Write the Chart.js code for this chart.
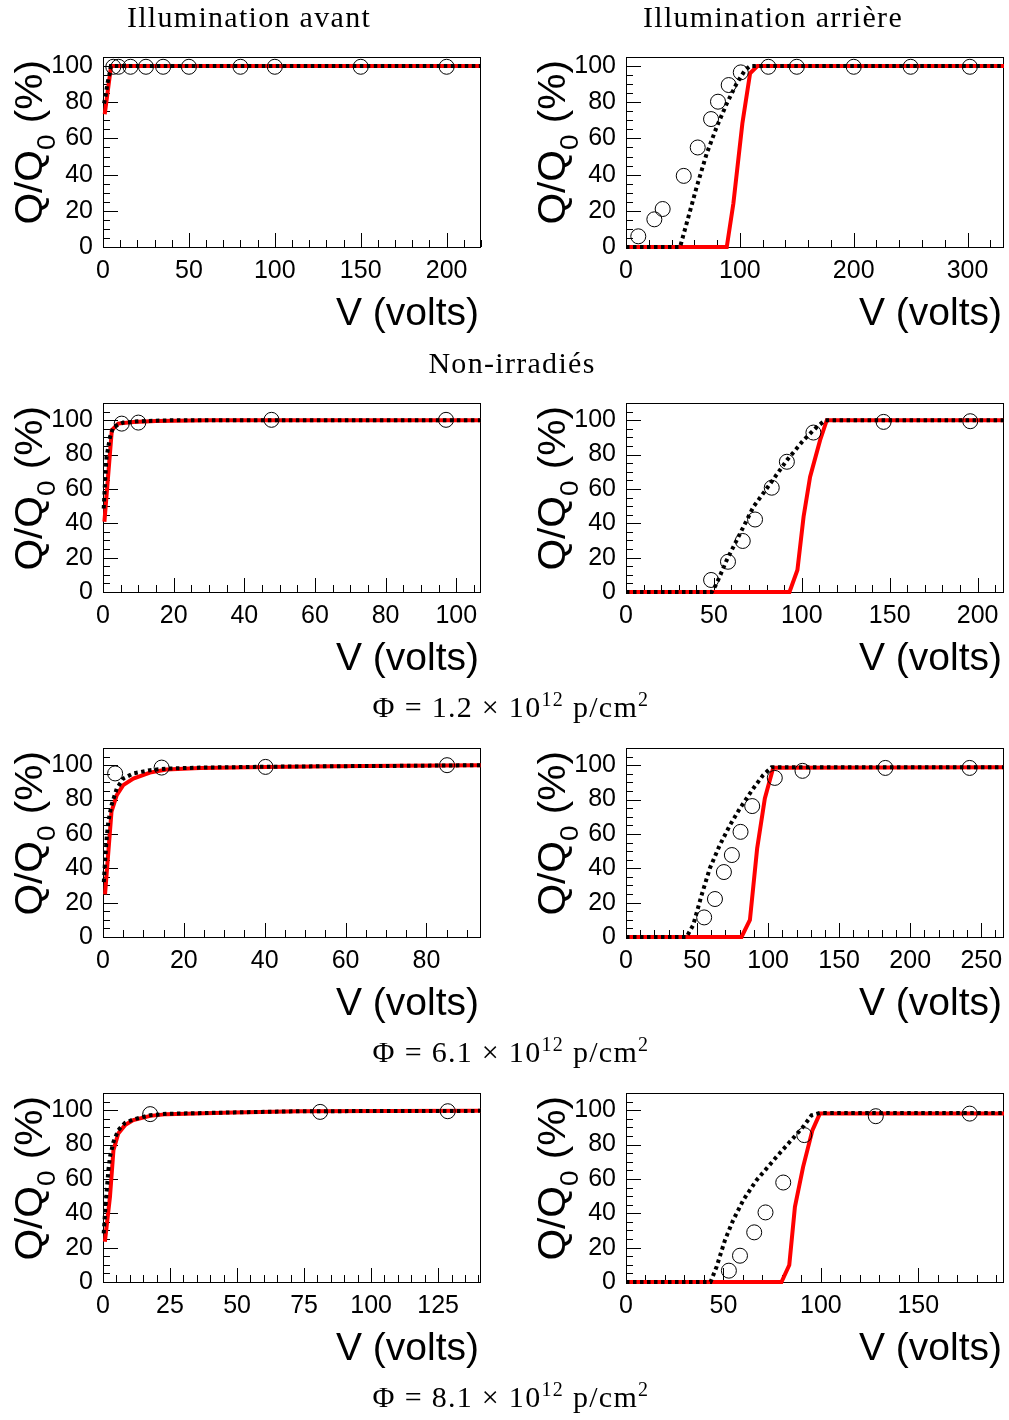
<!DOCTYPE html>
<html><head><meta charset="utf-8">
<script src="https://cdn.jsdelivr.net/npm/chart.js@4/dist/chart.umd.min.js"></script>
<style>
html,body{margin:0;padding:0;background:#fff;}
#wrap{position:relative;width:1009px;height:1420px;overflow:hidden;background:#fff;}
#wrap canvas{position:absolute;}
.ttl{position:absolute;font-family:"Liberation Serif","DejaVu Serif",serif;font-size:30px;line-height:30px;letter-spacing:1.3px;color:#000;white-space:nowrap;transform:translateX(-50%);}
.ttl sup{font-size:20px;vertical-align:11px;line-height:0;}
</style></head>
<body><div id="wrap"></div>
<script>
// ---------- DATA (V in volts, Q/Q0 in %) ----------
// Non-irradiés, illumination avant
const a1_redV = [1, 4.7, 220];
const a1_redQ = [73.4, 100, 100];
const a1_dotV = [0.6, 1.7, 2.5, 3.7, 4.6, 220];
const a1_dotQ = [79.3, 84.5, 90, 95.4, 100, 100];
const a1_ptsV = [6, 9, 16, 25, 35, 50, 80, 100, 150, 200];
const a1_ptsQ = [99.6, 99.6, 99.6, 99.6, 99.6, 99.6, 99.6, 99.6, 99.6, 99.6];
const a1_xTicks = [0, 50, 100, 150, 200];
// Non-irradiés, illumination arrière
const a2_redV = [0, 88.5, 94.3, 102.2, 109, 115.4, 332];
const a2_redQ = [0, 0, 24, 68.3, 96, 100, 100];
const a2_dotV = [0, 47.5, 54.8, 62, 70.9, 79.7, 88.5, 97.2, 104.6, 109, 332];
const a2_dotQ = [0, 0, 16.6, 33, 51.7, 66.4, 79.3, 90.4, 97.8, 100, 100];
const a2_ptsV = [10.8, 24.9, 32.2, 50.7, 63, 74.7, 80.8, 90.2, 100.8, 125, 150, 200, 250, 302];
const a2_ptsQ = [5.9, 15.3, 21, 39.3, 55, 70.7, 80.3, 89.5, 96.5, 99.6, 99.6, 99.6, 99.6, 99.6];
const a2_xTicks = [0, 100, 200, 300];
// Phi = 1.2e12, avant
const b1_redV = [0.4, 2.5, 4.3, 8.6, 15, 30, 107];
const b1_redQ = [40.9, 94.2, 98, 99, 99.5, 100, 100];
const b1_dotV = [0.2, 0.6, 1, 1.5, 2, 2.9, 5.7, 10.4, 20, 107];
const b1_dotQ = [48.6, 65, 78.7, 84.5, 90.3, 96, 98.6, 99.4, 100, 100];
const b1_ptsV = [5.3, 10, 47.7, 97.1];
const b1_ptsQ = [98, 98.6, 100.2, 100.2];
const b1_xTicks = [0, 20, 40, 60, 80, 100];
// Phi = 1.2e12, arrière
const b2_redV = [0, 93, 97.5, 101, 104.7, 110.4, 114.2, 215];
const b2_redQ = [0, 0, 12.8, 43.8, 67, 88.4, 100, 100];
const b2_dotV = [0, 48.8, 51.6, 57.3, 64.9, 72.5, 82, 91.5, 101, 108.5, 113.3, 215];
const b2_dotQ = [0, 0, 5, 18.6, 34.1, 49.6, 63, 76.7, 88.4, 96, 100, 100];
const b2_ptsV = [48.4, 58, 66.4, 73.4, 82.9, 91.5, 106.6, 146.5, 195.8];
const b2_ptsQ = [7, 17.6, 29.7, 42.2, 60.7, 75.8, 92.8, 99, 99.4];
const b2_xTicks = [0, 50, 100, 150, 200];
// Phi = 6.1e12, avant
const c1_redV = [0.5, 2.1, 3.4, 5, 7.5, 11.6, 15.7, 24, 40.4, 57, 73.4, 93.5];
const c1_redQ = [24.8, 72.9, 82.6, 88.4, 92.2, 95.7, 97.5, 98.4, 99, 99.4, 99.6, 100];
const c1_dotV = [0.2, 0.5, 0.9, 1.3, 2.1, 3.4, 5, 7.5, 11.6, 15.7, 24, 40.4, 57, 73.4, 93.5];
const c1_dotQ = [32, 43.8, 57.4, 67, 76.7, 86.4, 92.2, 95.2, 97.1, 98, 98.6, 99.1, 99.4, 99.6, 100];
const c1_ptsV = [3, 14.5, 40.2, 85.1];
const c1_ptsQ = [95.2, 98.6, 99, 100];
const c1_xTicks = [0, 20, 40, 60, 80];
// Phi = 6.1e12, arrière
const c2_redV = [0, 81.3, 87.2, 92.3, 97.7, 103.6, 266];
const c2_redQ = [0, 0, 9.9, 51.6, 80.6, 98.5, 98.8];
const c2_dotV = [0, 42.6, 47.3, 53.2, 59, 66, 73.1, 80.1, 89.5, 96.5, 102.4, 266];
const c2_dotQ = [0, 0, 7, 24.4, 40, 53.5, 65, 74.8, 86.4, 94.2, 98.8, 98.8];
const c2_ptsV = [55, 62.6, 68.9, 74.5, 80.6, 88.8, 104.7, 124.2, 182.5, 241.8];
const c2_ptsQ = [11.4, 22.1, 37.8, 47.7, 61.2, 76.2, 92.6, 96.7, 98.4, 98.4];
const c2_xTicks = [0, 50, 100, 150, 200, 250];
// Phi = 8.1e12, avant
const d1_redV = [0.7, 2.6, 3.9, 5.7, 8.2, 11.3, 17.6, 23.8, 48.7, 73.6, 141];
const d1_redQ = [23.4, 49.6, 76.7, 86.4, 91.3, 94.2, 96.7, 97.7, 98.6, 99.4, 99.6];
const d1_dotV = [0.25, 0.75, 1.4, 2, 2.6, 3.9, 5.7, 8.2, 11.3, 17.6, 23.8, 48.7, 73.6, 141];
const d1_dotQ = [28.3, 40, 53.5, 65, 72.9, 81.6, 88.4, 92.6, 94.6, 97.1, 97.9, 98.7, 99.4, 99.6];
const d1_ptsV = [17.6, 81, 128.6];
const d1_ptsQ = [97.7, 99, 99.4];
const d1_xTicks = [0, 25, 50, 75, 100, 125];
// Phi = 8.1e12, arrière
const d2_redV = [0, 79.8, 83.8, 86.7, 90.9, 95.7, 99.5, 194];
const d2_redQ = [0, 0, 9.9, 43.8, 67, 88.4, 98, 98];
const d2_dotV = [0, 43.4, 46.5, 50.8, 55, 60.2, 67, 72.1, 77.3, 84.1, 90.9, 95.2, 99.5, 194];
const d2_dotQ = [0, 0, 8.9, 24.4, 36, 47.7, 59.3, 66, 72.9, 81.6, 90.3, 97, 98.4, 98.4];
const d2_ptsV = [52.8, 58.5, 65.8, 71.6, 80.7, 91.5, 128.2, 176.4];
const d2_ptsQ = [6.6, 15.3, 28.9, 40.5, 57.9, 85.5, 96.5, 98];
const d2_xTicks = [0, 50, 100, 150];

const yTicks = [0, 20, 40, 60, 80, 100];

// ---------- LAYOUT ----------
const rowTop = [57, 403, 748, 1093];
const rowH = [190, 189, 189, 189];
const rowYMax = [105, 110, 110, 110];

const panels = [
  {row:0, col:0, redV:a1_redV, redQ:a1_redQ, dotV:a1_dotV, dotQ:a1_dotQ, ptsV:a1_ptsV, ptsQ:a1_ptsQ, xTicks:a1_xTicks, xMax:220, xMinor:10},
  {row:0, col:1, redV:a2_redV, redQ:a2_redQ, dotV:a2_dotV, dotQ:a2_dotQ, ptsV:a2_ptsV, ptsQ:a2_ptsQ, xTicks:a2_xTicks, xMax:332, xMinor:20},
  {row:1, col:0, redV:b1_redV, redQ:b1_redQ, dotV:b1_dotV, dotQ:b1_dotQ, ptsV:b1_ptsV, ptsQ:b1_ptsQ, xTicks:b1_xTicks, xMax:107, xMinor:5},
  {row:1, col:1, redV:b2_redV, redQ:b2_redQ, dotV:b2_dotV, dotQ:b2_dotQ, ptsV:b2_ptsV, ptsQ:b2_ptsQ, xTicks:b2_xTicks, xMax:215, xMinor:10},
  {row:2, col:0, redV:c1_redV, redQ:c1_redQ, dotV:c1_dotV, dotQ:c1_dotQ, ptsV:c1_ptsV, ptsQ:c1_ptsQ, xTicks:c1_xTicks, xMax:93.5, xMinor:5},
  {row:2, col:1, redV:c2_redV, redQ:c2_redQ, dotV:c2_dotV, dotQ:c2_dotQ, ptsV:c2_ptsV, ptsQ:c2_ptsQ, xTicks:c2_xTicks, xMax:266, xMinor:10},
  {row:3, col:0, redV:d1_redV, redQ:d1_redQ, dotV:d1_dotV, dotQ:d1_dotQ, ptsV:d1_ptsV, ptsQ:d1_ptsQ, xTicks:d1_xTicks, xMax:141, xMinor:5},
  {row:3, col:1, redV:d2_redV, redQ:d2_redQ, dotV:d2_dotV, dotQ:d2_dotQ, ptsV:d2_ptsV, ptsQ:d2_ptsQ, xTicks:d2_xTicks, xMax:194, xMinor:10},
];

const SANS = '"Liberation Sans", Arial, Helvetica, sans-serif';
Chart.defaults.font.family = SANS;
Chart.defaults.color = '#000';

function pts(vs, qs) { return vs.map((v, i) => ({x: v, y: qs[i]})); }

const frameTicks = {
  id: 'frameTicks',
  beforeDatasetsDraw(chart, args, o) {
    const {ctx, chartArea: a} = chart;
    const x = chart.scales.x, y = chart.scales.y;
    ctx.save();
    ctx.strokeStyle = '#000';
    ctx.lineWidth = 1;
    const L = Math.round(a.left), R = Math.round(a.right), T = Math.round(a.top), B = Math.round(a.bottom);
    ctx.strokeRect(L + 0.5, T + 0.5, R - L - 1, B - T);
    ctx.beginPath();
    const nx = Math.floor(x.max / o.xMinor + 1e-9);
    for (let i = 0; i <= nx; i++) {
      const v = i * o.xMinor;
      const px = Math.round(x.getPixelForValue(v)) + 0.5;
      const major = o.xMajor.some(m => Math.abs(m - v) < 1e-6);
      ctx.moveTo(px, B); ctx.lineTo(px, B - (major ? 14 : 7));
    }
    const ny = Math.floor(y.max / 5 + 1e-9);
    for (let i = 0; i <= ny; i++) {
      const v = i * 5;
      const py = Math.round(y.getPixelForValue(v)) + 0.5;
      const major = o.yMajor.some(m => Math.abs(m - v) < 1e-6);
      ctx.moveTo(L, py); ctx.lineTo(L + (major ? 15 : 7), py);
    }
    ctx.stroke();
    ctx.restore();
  },
  afterDraw(chart) {
    const {ctx, chartArea: a} = chart;
    ctx.save();
    ctx.fillStyle = '#000';
    const big = '38px ' + SANS, small = '26px ' + SANS;
    ctx.font = '39px ' + SANS;
    ctx.textAlign = 'right';
    ctx.textBaseline = 'alphabetic';
    ctx.fillText('V (volts)', a.right - 2, a.bottom + 78);
    ctx.font = big;
    ctx.translate(a.left - 61.5, a.top + 3);
    ctx.rotate(-Math.PI / 2);
    ctx.scale(1.07, 1);
    ctx.textAlign = 'left';
    const w1 = ctx.measureText('Q/Q').width, w3 = ctx.measureText(' (%)').width;
    ctx.font = small;
    const w2 = ctx.measureText('0').width;
    let xx = -(w1 + w2 + w3);
    ctx.font = big; ctx.fillText('Q/Q', xx, 0); xx += w1;
    ctx.font = small; ctx.fillText('0', xx, 13); xx += w2;
    ctx.font = big; ctx.fillText(' (%)', xx, 0);
    ctx.restore();
  }
};

const PADT = 40, PADR = 40, AXB = 100;
const wrap = document.getElementById('wrap');
panels.forEach(p => {
  const cv = document.createElement('canvas');
  const left = p.col === 0 ? 0 : 520;
  const axisW = p.col === 0 ? 103 : 106;
  const W = axisW + 378 + PADR;
  const top = rowTop[p.row] - PADT;
  const H = PADT + rowH[p.row] + AXB;
  cv.width = W; cv.height = H;
  cv.style.left = left + 'px'; cv.style.top = top + 'px';
  cv.style.width = W + 'px'; cv.style.height = H + 'px';
  wrap.appendChild(cv);
  new Chart(cv, {
    type: 'line',
    data: {
      datasets: [
        {label: 'mesures', data: pts(p.ptsV, p.ptsQ), showLine: false, pointRadius: 7.5, pointHoverRadius: 7.5,
         pointStyle: 'circle', pointBorderColor: '#000', pointBackgroundColor: 'rgba(0,0,0,0)', pointBorderWidth: 1, order: 0},
        {label: 'simulation 2', data: pts(p.dotV, p.dotQ), borderColor: '#000', borderWidth: 4, borderDash: [3.5, 3.5],
         pointRadius: 0, tension: 0, fill: false, order: 1},
        {label: 'simulation 1', data: pts(p.redV, p.redQ), borderColor: '#ff0000', borderWidth: 4,
         pointRadius: 0, tension: 0, fill: false, order: 2},
      ]
    },
    options: {
      responsive: false, animation: false, devicePixelRatio: 1, events: [],
      clip: false,
      layout: {padding: {left: 0, right: PADR, top: PADT, bottom: 0}},
      plugins: {legend: {display: false}, tooltip: {enabled: false},
                frameTicks: {xMinor: p.xMinor, xMajor: p.xTicks, yMajor: yTicks}},
      scales: {
        x: {type: 'linear', min: 0, max: p.xMax,
            grid: {display: false, drawTicks: false}, border: {display: false},
            ticks: {font: {size: 25}, color: '#000', padding: 9, maxRotation: 0, autoSkip: false},
            afterBuildTicks: s => { s.ticks = p.xTicks.map(v => ({value: v})); },
            afterFit: s => { s.height = AXB; }},
        y: {type: 'linear', min: 0, max: rowYMax[p.row],
            grid: {display: false, drawTicks: false}, border: {display: false},
            ticks: {font: {size: 25}, color: '#000', padding: 10, autoSkip: false},
            afterBuildTicks: s => { s.ticks = yTicks.map(v => ({value: v})); },
            afterFit: s => { s.width = axisW; }}
      }
    },
    plugins: [frameTicks]
  });
});

// ---------- TITLES ----------
const titles = [
  {html: 'Illumination avant', x: 249, top: 2},
  {html: 'Illumination arrière', x: 773, top: 2},
  {html: 'Non-irradiés', x: 512, top: 348},
  {html: 'Φ = 1.2 × 10<sup>12</sup> p/cm<sup>2</sup>', x: 511, top: 692},
  {html: 'Φ = 6.1 × 10<sup>12</sup> p/cm<sup>2</sup>', x: 511, top: 1037},
  {html: 'Φ = 8.1 × 10<sup>12</sup> p/cm<sup>2</sup>', x: 511, top: 1382},
];
titles.forEach(t => {
  const d = document.createElement('div');
  d.className = 'ttl';
  d.innerHTML = t.html;
  d.style.left = t.x + 'px';
  d.style.top = t.top + 'px';
  wrap.appendChild(d);
});
</script>
</body></html>
